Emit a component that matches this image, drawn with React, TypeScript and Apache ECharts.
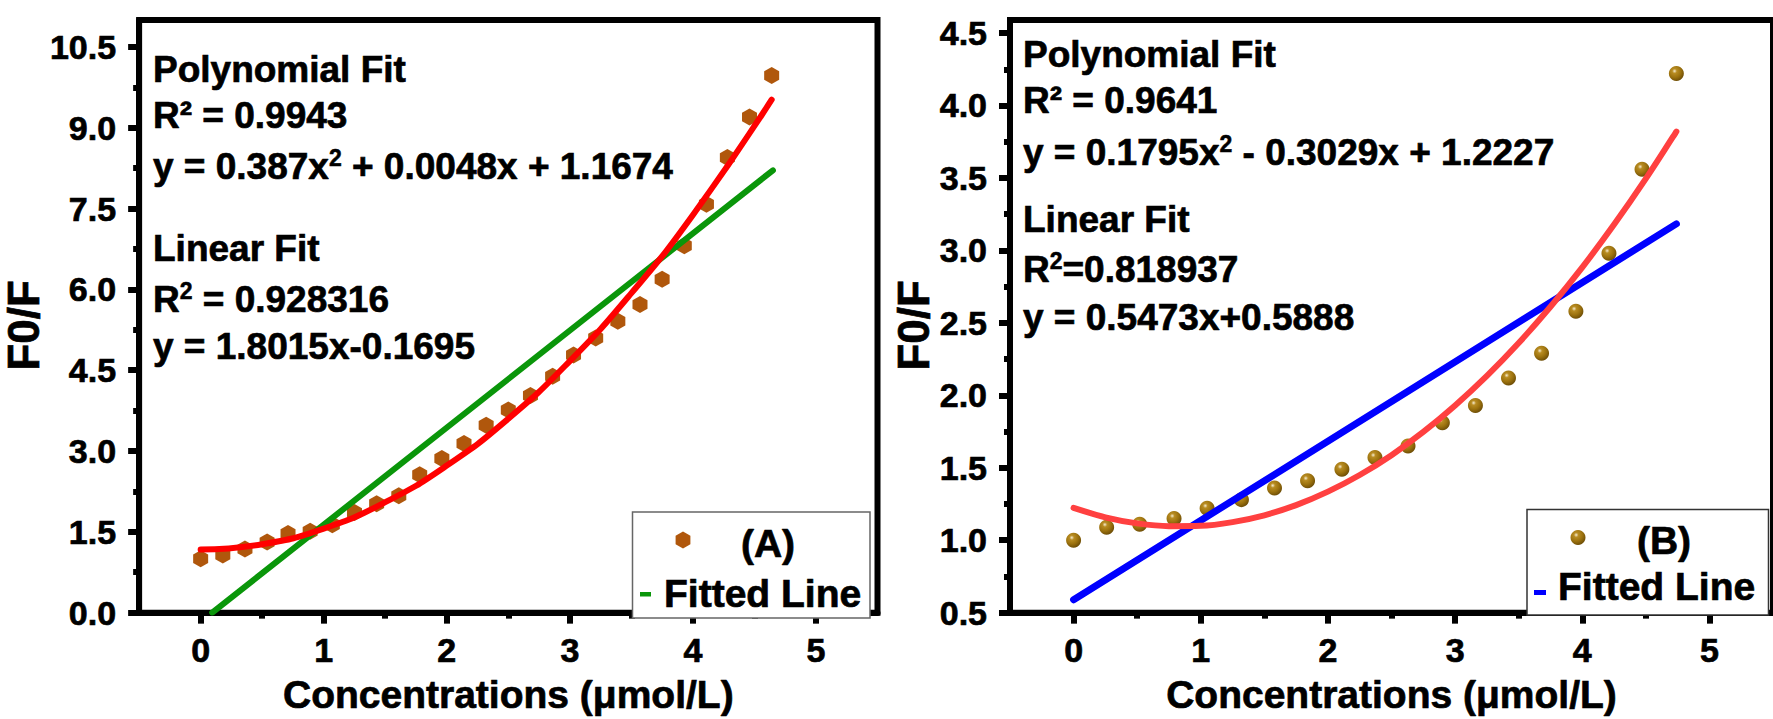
import React, { useEffect, useRef } from 'react';
import * as echarts from 'echarts';

// ---------- data ----------
const xA = [0, 0.18, 0.36, 0.54, 0.71, 0.89, 1.07, 1.25, 1.43, 1.61, 1.78, 1.96, 2.14, 2.32, 2.5, 2.68, 2.86, 3.03, 3.21, 3.39, 3.57, 3.75, 3.93, 4.11, 4.28, 4.46, 4.64];
const yA = [1.0, 1.07, 1.18, 1.31, 1.47, 1.51, 1.63, 1.86, 2.02, 2.17, 2.56, 2.86, 3.14, 3.48, 3.76, 4.03, 4.39, 4.78, 5.1, 5.41, 5.72, 6.19, 6.81, 7.58, 8.45, 9.2, 9.97];

const polyAx = [0, 0.5, 1, 1.5, 2, 2.5, 3, 3.5, 4, 4.64];
const polyAy = [1.17, 1.27, 1.56, 2.05, 2.73, 3.6, 4.67, 5.93, 7.38, 9.52];
const linAx = [0.094, 4.65];
const linAy = [0, 8.21];

const xB = [0, 0.26, 0.52, 0.79, 1.05, 1.32, 1.58, 1.84, 2.11, 2.37, 2.63, 2.9, 3.16, 3.42, 3.68, 3.95, 4.21, 4.47, 4.74];
const yB = [1.0, 1.09, 1.11, 1.15, 1.22, 1.28, 1.36, 1.41, 1.49, 1.57, 1.65, 1.81, 1.93, 2.12, 2.29, 2.58, 2.98, 3.56, 4.22];

const polyBx = [0, 0.25, 0.5, 0.75, 1, 1.25, 1.5, 1.75, 2, 2.25, 2.5, 2.75, 3, 3.25, 3.5, 3.75, 4, 4.25, 4.5, 4.74];
const polyBy = [1.223, 1.158, 1.116, 1.097, 1.099, 1.125, 1.172, 1.242, 1.335, 1.45, 1.587, 1.747, 1.93, 2.134, 2.361, 2.611, 2.883, 3.178, 3.495, 3.82];
const linBx = [0, 4.74];
const linBy = [0.589, 3.183];

const xMajor = [0, 1, 2, 3, 4, 5];
const xMinor = [0.5, 1.5, 2.5, 3.5, 4.5];
const yMajorA = [0, 1.5, 3, 4.5, 6, 7.5, 9, 10.5];
const yMinorA = [0.75, 2.25, 3.75, 5.25, 6.75, 8.25, 9.75];
const yMajorB = [0.5, 1, 1.5, 2, 2.5, 3, 3.5, 4, 4.5];
const yMinorB = [0.75, 1.25, 1.75, 2.25, 2.75, 3.25, 3.75, 4.25];

const textsA = {
  polyTitle: 'Polynomial Fit',
  polyR2: 'R² = 0.9943',
  polyEqA: 'y = 0.387x',
  polyEqB: ' + 0.0048x + 1.1674',
  linTitle: 'Linear Fit',
  linR2: ' = 0.928316',
  linEq: 'y = 1.8015x-0.1695',
  legend: '(A)',
};
const textsB = {
  polyTitle: 'Polynomial Fit',
  polyR2: 'R² = 0.9641',
  polyEqA: 'y = 0.1795x',
  polyEqB: ' - 0.3029x + 1.2227',
  linTitle: 'Linear Fit',
  linR2: '=0.818937',
  linEq: 'y = 0.5473x+0.5888',
  legend: '(B)',
};
const X_NAME = 'Concentrations (μmol/L)';
const Y_NAME = 'F0/F';
const LEGEND_LINE = 'Fitted Line';

const FONT = '"Liberation Sans", Arial, Helvetica, sans-serif';
const HEX_PATH = 'path://M0,-1 L0.866,-0.5 L0.866,0.5 L0,1 L-0.866,0.5 L-0.866,-0.5 Z';
const HEX_COLOR = '#B0570C';
const BALL = {
  type: 'radial',
  x: 0.38,
  y: 0.33,
  r: 0.7,
  colorStops: [
    { offset: 0, color: '#f6ecd0' },
    { offset: 0.22, color: '#b88c22' },
    { offset: 0.6, color: '#9c720e' },
    { offset: 1, color: '#6c4c06' },
  ],
};
const HEAVY = { textBorderColor: '#000', textBorderWidth: 0.7 };

const zip = (xs: number[], ys: number[]) => xs.map((x, i) => [x, ys[i]]);

function axesFor(grid: number, yMin: number, yMax: number, yMaj: number[], yMin2: number[]) {
  const tickLabel = { fontSize: 34, fontWeight: 'bold' as const, color: '#000', fontFamily: FONT, ...HEAVY };
  const x = [
    {
      gridIndex: grid, type: 'value', min: -0.5, max: 5.5, position: 'bottom',
      axisLine: { show: true, onZero: false, lineStyle: { color: '#000', width: 6 } },
      axisTick: { show: true, customValues: xMajor, length: 11, lineStyle: { color: '#000', width: 6 } },
      axisLabel: { ...tickLabel, customValues: xMajor, margin: 20 },
      splitLine: { show: false },
      name: X_NAME, nameLocation: 'middle', nameGap: 62,
      nameTextStyle: { fontSize: 39, fontWeight: 'bold', color: '#000', fontFamily: FONT, ...HEAVY },
    },
    {
      gridIndex: grid, type: 'value', min: -0.5, max: 5.5, position: 'bottom',
      axisLine: { show: false, onZero: false },
      axisTick: { show: true, customValues: xMinor, length: 6, lineStyle: { color: '#000', width: 6 } },
      axisLabel: { show: false },
      splitLine: { show: false },
    },
  ];
  const y = [
    {
      gridIndex: grid, type: 'value', min: yMin, max: yMax, position: 'left',
      axisLine: { show: true, onZero: false, lineStyle: { color: '#000', width: 6 } },
      axisTick: { show: true, customValues: yMaj, length: 11, lineStyle: { color: '#000', width: 6 } },
      axisLabel: { ...tickLabel, customValues: yMaj, margin: 23, formatter: (v: number) => v.toFixed(1) },
      splitLine: { show: false },
      name: Y_NAME, nameLocation: 'middle', nameGap: 64,
      nameTextStyle: { fontSize: 44, fontWeight: 'bold', color: '#000', fontFamily: FONT, padding: [0, 18, 0, 0], ...HEAVY },
    },
    {
      gridIndex: grid, type: 'value', min: yMin, max: yMax, position: 'left',
      axisLine: { show: false, onZero: false },
      axisTick: { show: true, customValues: yMin2, length: 6, lineStyle: { color: '#000', width: 6 } },
      axisLabel: { show: false },
      splitLine: { show: false },
    },
  ];
  return { x, y };
}

function annot(x: number, ys: number[], t: typeof textsA) {
  const base = { fontSize: 37, fontWeight: 'bold' as const, fontFamily: FONT, fill: '#000' };
  const plain = { stroke: '#000', lineWidth: 0.7 };
  const rich = {
    n: { fontSize: 37, fontWeight: 'bold', fontFamily: FONT, fill: '#000', stroke: '#000', lineWidth: 0.7, lineHeight: 40 },
    s: { fontSize: 23, fontWeight: 'bold', fontFamily: FONT, fill: '#000', stroke: '#000', lineWidth: 0.5, lineHeight: 24, verticalAlign: 'top' },
  };
  const mk = (y: number, text: string, useRich = false) => ({
    type: 'text', x, y, z: 50,
    style: { ...base, text, verticalAlign: 'middle', align: 'left', ...(useRich ? { rich } : plain) },
  });
  return [
    mk(ys[0], t.polyTitle),
    mk(ys[1], t.polyR2),
    mk(ys[2], `{n|${t.polyEqA}}{s|2}{n|${t.polyEqB}}`, true),
    mk(ys[3], t.linTitle),
    mk(ys[4], `{n|R}{s|2}{n|${t.linR2}}`, true),
    mk(ys[5], t.linEq),
  ];
}

export default function App() {
  const ref = useRef<HTMLDivElement>(null);
  useEffect(() => {
    if (!ref.current) return;
    const chart = echarts.init(ref.current, undefined, { renderer: 'svg' });
    const a = axesFor(0, 0, 11, yMajorA, yMinorA);
    const b = axesFor(1, 0.5, 4.59, yMajorB, yMinorB);
    const lineBase = { type: 'line', showSymbol: false, symbol: 'none', z: 5, silent: true };
    const legendText = { fontSize: 39, fontWeight: 'bold' as const, fontFamily: FONT, fill: '#000', stroke: '#000', lineWidth: 0.7 };

    const option: any = {
      animation: false,
      backgroundColor: '#fff',
      grid: [
        { left: 125, top: 20, width: 752.5, height: 606, show: true, borderColor: '#000', borderWidth: 6, backgroundColor: 'transparent' },
        { left: 1010, top: 20, width: 764.5, height: 603, show: true, borderColor: '#000', borderWidth: 6, backgroundColor: 'transparent' },
      ],
      xAxis: [...a.x, ...b.x],
      yAxis: [...a.y, ...b.y],
      series: [
        {
          type: 'scatter', xAxisIndex: 0, yAxisIndex: 0, data: zip(xA, yA),
          symbol: HEX_PATH, symbolSize: [15, 17], itemStyle: { color: HEX_COLOR, opacity: 1 }, z: 3,
        },
        { ...lineBase, xAxisIndex: 0, yAxisIndex: 0, data: zip(linAx, linAy), lineStyle: { color: '#0A960A', width: 6, cap: 'round' } },
        { ...lineBase, xAxisIndex: 0, yAxisIndex: 0, data: zip(polyAx, polyAy), smooth: true, lineStyle: { color: '#FF0000', width: 6, cap: 'round' } },
        {
          type: 'scatter', xAxisIndex: 2, yAxisIndex: 2, data: zip(xB, yB),
          symbol: 'circle', symbolSize: 15, itemStyle: { color: BALL, opacity: 1 }, z: 3,
        },
        { ...lineBase, xAxisIndex: 2, yAxisIndex: 2, data: zip(linBx, linBy), lineStyle: { color: '#0000FF', width: 7, cap: 'round' } },
        { ...lineBase, xAxisIndex: 2, yAxisIndex: 2, data: zip(polyBx, polyBy), smooth: 0.3, lineStyle: { color: '#FF4040', width: 6, cap: 'round' } },
      ],
      graphic: [
        ...annot(153, [69, 115.5, 166, 248, 299, 346], textsA),
        ...annot(1023, [54, 100, 152, 219, 269, 317], textsB),
        // legend A
        { type: 'rect', z: 40, shape: { x: 632.5, y: 512, width: 237.5, height: 106 }, style: { fill: '#fff', stroke: '#666', lineWidth: 1.5 } },
        { type: 'polygon', z: 41, shape: { points: [[683, 531.5], [690.4, 535.8], [690.4, 544.2], [683, 548.5], [675.6, 544.2], [675.6, 535.8]] }, style: { fill: HEX_COLOR } },
        { type: 'text', z: 41, x: 768, y: 543, style: { ...legendText, text: textsA.legend, align: 'center', verticalAlign: 'middle' } },
        { type: 'rect', z: 41, shape: { x: 640, y: 592, width: 11, height: 4.5 }, style: { fill: '#0A960A' } },
        { type: 'text', z: 41, x: 664, y: 593, style: { ...legendText, text: LEGEND_LINE, align: 'left', verticalAlign: 'middle' } },
        // legend B
        { type: 'rect', z: 40, shape: { x: 1527, y: 509.5, width: 241.5, height: 105.5 }, style: { fill: '#fff', stroke: '#333', lineWidth: 1.5 } },
        { type: 'circle', z: 41, shape: { cx: 1578, cy: 537.5, r: 7.5 }, style: { fill: BALL } },
        { type: 'text', z: 41, x: 1664, y: 540, style: { ...legendText, text: textsB.legend, align: 'center', verticalAlign: 'middle' } },
        { type: 'rect', z: 41, shape: { x: 1534, y: 590, width: 12, height: 5 }, style: { fill: '#0000FF' } },
        { type: 'text', z: 41, x: 1558, y: 586, style: { ...legendText, text: LEGEND_LINE, align: 'left', verticalAlign: 'middle' } },
      ],
    };
    chart.setOption(option);
    return () => chart.dispose();
  }, []);
  return <div ref={ref} style={{ position: 'absolute', left: 0, top: 0, width: 1773, height: 719, background: '#fff' }} />;
}
